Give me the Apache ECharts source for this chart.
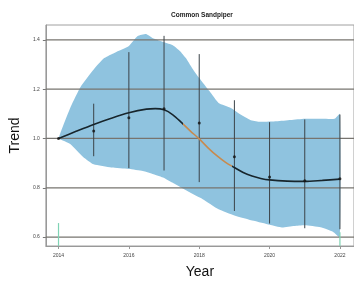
<!DOCTYPE html>
<html>
<head>
<meta charset="utf-8">
<script src="https://cdn.jsdelivr.net/npm/echarts@6/dist/echarts.min.js"></script>
<style>
  html, body { margin: 0; padding: 0; background: #fff; }
  #chart { width: 354px; height: 284px; }
</style>
</head>
<body>
<div id="chart"></div>
<script>
// yearly index points and their error bars
var years = [2014, 2015, 2016, 2017, 2018, 2019, 2020, 2021, 2022];
var index = [1.0, 1.03, 1.084, 1.12, 1.063, 0.926, 0.844, 0.829, 0.837];
var barLow = [null, 0.928, 0.88, 0.87, 0.823, 0.706, 0.655, 0.636, 0.632];
var barHigh = [null, 1.141, 1.35, 1.416, 1.342, 1.155, 1.066, 1.077, 1.097];

// smoothed trend
var trendYears = [2014, 2014.5, 2015, 2015.5, 2016, 2016.5, 2016.75, 2017, 2017.25, 2017.5, 2017.75, 2018, 2018.25, 2018.5, 2018.75, 2019, 2019.25, 2019.5, 2019.75, 2020, 2020.5, 2021, 2021.5, 2022];
var trend = [1.0, 1.029, 1.057, 1.082, 1.104, 1.119, 1.121, 1.116, 1.096, 1.064, 1.03, 0.998, 0.962, 0.93, 0.903, 0.882, 0.862, 0.848, 0.838, 0.832, 0.827, 0.826, 0.83, 0.835];

// confidence band
var upperYears = [2014, 2014.1, 2014.35, 2014.63, 2015, 2015.3, 2015.6, 2016, 2016.25, 2016.5, 2016.7, 2017, 2017.25, 2017.45, 2017.62, 2017.8, 2018, 2018.3, 2018.55, 2018.9, 2019.2, 2019.45, 2019.7, 2020.2, 2020.6, 2021, 2021.5, 2021.85, 2022];
var upper = [1.0, 1.04, 1.13, 1.21, 1.28, 1.326, 1.348, 1.375, 1.415, 1.423, 1.405, 1.39, 1.378, 1.355, 1.326, 1.285, 1.245, 1.19, 1.144, 1.124, 1.095, 1.075, 1.068, 1.07, 1.075, 1.08, 1.08, 1.08, 1.1];
var lowerYears = [2014, 2014.35, 2014.7, 2015, 2015.5, 2016, 2016.4, 2016.7, 2017, 2017.25, 2017.5, 2017.75, 2018.1, 2018.55, 2019, 2019.55, 2020, 2020.35, 2020.7, 2021, 2021.45, 2021.8, 2022];
var lower = [1.0, 0.976, 0.925, 0.895, 0.882, 0.876, 0.868, 0.855, 0.84, 0.82, 0.8, 0.78, 0.754, 0.713, 0.688, 0.666, 0.65, 0.639, 0.645, 0.648, 0.64, 0.622, 0.6];

// rug marks at the bottom
var rugYears = [2014, 2022];
var rugTop = [0.657, 0.62];

var yTicks = [0.6, 0.8, 1.0, 1.2, 1.4];
var xTicks = [2014, 2016, 2018, 2020, 2022];
var yMin = 0.564, yMax = 1.46;

var chart = echarts.init(document.getElementById('chart'));

var barData = [];
for (var i = 0; i < years.length; i++) {
    if (barLow[i] != null) barData.push([years[i], barLow[i], barHigh[i]]);
}
var rugData = [];
for (var i = 0; i < rugYears.length; i++) rugData.push([rugYears[i], yMin, rugTop[i]]);

function vline(color, width) {
    return function (params, api) {
        var a = api.coord([api.value(0), api.value(1)]);
        var b = api.coord([api.value(0), api.value(2)]);
        return {
            type: 'line',
            shape: { x1: a[0], y1: a[1], x2: b[0], y2: b[1] },
            style: { stroke: color, lineWidth: width }
        };
    };
}

var option = {
    animation: false,
    title: {
        text: 'Common Sandpiper',
        left: 197, top: 7, textAlign: 'center',
        textStyle: { fontSize: 6.5, fontWeight: 'bold', color: '#222', fontFamily: 'Liberation Sans' }
    },
    grid: {
        left: 41, right: 0, top: 25, bottom: 38,
        show: true, borderColor: '#a0a0a0', borderWidth: 1
    },
    xAxis: {
        type: 'value', min: 2013.64, max: 2022.4,
        name: 'Year', nameLocation: 'middle', nameGap: 19,
        nameTextStyle: { fontSize: 14, color: '#111', fontFamily: 'Liberation Sans' },
        splitLine: { show: false },
        axisLine: { lineStyle: { color: '#999' } },
        axisTick: { customValues: xTicks, length: 3, lineStyle: { color: '#999' } },
        axisLabel: {
            customValues: xTicks, fontSize: 5, color: '#444', margin: 7,
            fontFamily: 'Liberation Sans', formatter: function (v) { return String(v); }
        }
    },
    yAxis: {
        type: 'value', min: yMin, max: yMax,
        name: 'Trend', nameLocation: 'middle', nameGap: 19,
        nameTextStyle: { fontSize: 14, color: '#111', fontFamily: 'Liberation Sans' },
        splitLine: { show: false },
        axisLine: { show: true, lineStyle: { color: '#999' } },
        axisTick: { show: true, customValues: yTicks, length: 3, lineStyle: { color: '#777' } },
        axisLabel: {
            customValues: yTicks, fontSize: 5, color: '#444', margin: 6,
            fontFamily: 'Liberation Sans', formatter: function (v) { return v.toFixed(1); }
        }
    },
    visualMap: {
        type: 'piecewise', show: false, dimension: 0, seriesIndex: 3,
        pieces: [{ gte: 2017.55, lte: 2018.92, color: '#c78a4e' }],
        outOfRange: { color: '#17252c' }
    },
    series: [
        {
            type: 'custom', z: 1, silent: true,
            data: [[2014, 1.0]],
            renderItem: function (params, api) {
                var pts = [];
                for (var i = 0; i < upperYears.length; i++) pts.push(api.coord([upperYears[i], upper[i]]));
                for (var j = lowerYears.length - 1; j >= 0; j--) pts.push(api.coord([lowerYears[j], lower[j]]));
                return { type: 'polygon', shape: { points: pts, smooth: 0.15 }, style: { fill: '#8fc3df' } };
            }
        },
        {
            // horizontal reference lines across the panel
            type: 'custom', z: 2, silent: true,
            data: yTicks.map(function (v) { return [2014, v]; }),
            renderItem: function (params, api) {
                var p = api.coord([api.value(0), api.value(1)]);
                var cs = params.coordSys;
                return {
                    type: 'line',
                    shape: { x1: cs.x, y1: p[1], x2: cs.x + cs.width, y2: p[1] },
                    style: { stroke: '#77746f', lineWidth: 1.2 }
                };
            }
        },
        {
            type: 'custom', z: 3, silent: true,
            data: barData,
            renderItem: vline('#3b4348', 1)
        },
        {
            type: 'line', z: 4, smooth: 0.3, symbol: 'none',
            lineStyle: { width: 1.6 },
            data: trendYears.map(function (y, i) { return [y, trend[i]]; })
        },
        {
            type: 'scatter', z: 5, symbolSize: 3,
            itemStyle: { color: '#111' },
            data: years.map(function (y, i) { return [y, index[i]]; })
        },
        {
            type: 'custom', z: 3, silent: true,
            data: rugData,
            renderItem: vline('#7fd3b4', 1.2)
        }
    ]
};
chart.setOption(option);
</script>
</body>
</html>
